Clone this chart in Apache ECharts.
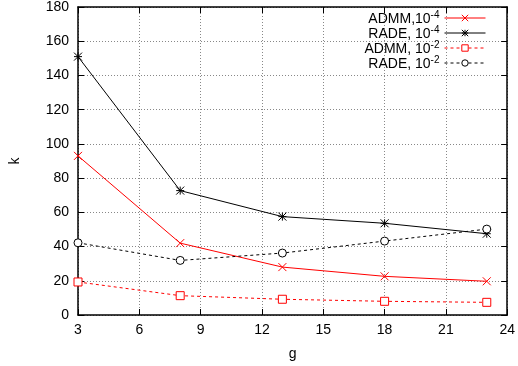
<!DOCTYPE html>
<html>
<head>
<meta charset="utf-8">
<script src="https://cdn.jsdelivr.net/npm/echarts@6/dist/echarts.min.js"></script>
<style>
html, body { margin: 0; padding: 0; background: #fff; }
#chart { width: 518px; height: 366px; }
</style>
</head>
<body>
<div id="chart"></div>
<script>
// Iteration counts k versus group size g for two solvers at two tolerances
const gValues = [3, 8, 13, 18, 23];
const admmTight = [93, 42, 28, 22.6, 19.7];
const radeTight = [151, 72.7, 57.5, 53.6, 47.5];
const admmLoose = [19.3, 11.3, 9.2, 8, 7.4];
const radeLoose = [42.2, 31.9, 36.2, 43.2, 50.2];

const seriesNames = ['ADMM,10^-4', 'RADE, 10^-4', 'ADMM, 10^-2', 'RADE, 10^-2'];
const legendLabels = {
  'ADMM,10^-4': '{b|ADMM,10}{sup|-4}',
  'RADE, 10^-4': '{b|RADE, 10}{sup|-4}',
  'ADMM, 10^-2': '{b|ADMM, 10}{sup|-2}',
  'RADE, 10^-2': '{b|RADE, 10}{sup|-2}'
};

const FONT = 'Liberation Sans, Arial, sans-serif';
const crossPath = 'path://M0,0L10,10M10,0L0,10';
const starPath = 'path://M0,0L10,10M10,0L0,10M5,0L5,10M0,5L10,5';

function pairs(ys) { return gValues.map((g, i) => [g, ys[i]]); }

const gridLine = { show: true, lineStyle: { color: '#888', type: [1, 2], width: 1 } };
const frameLine = { show: true, onZero: false, lineStyle: { color: '#000', width: 1.5 } };
const tickIn = { show: true, inside: true, length: 6, lineStyle: { color: '#000', width: 1 } };

const chart = echarts.init(document.getElementById('chart'), null, { renderer: 'canvas' });
chart.setOption({
  animation: false,
  backgroundColor: '#fff',
  grid: { left: 75, right: 10, top: 6, bottom: 51 },
  legend: {
    orient: 'vertical',
    right: 27,
    top: 5,
    align: 'right',
    itemWidth: 41,
    itemHeight: 8,
    itemGap: -1,
    data: seriesNames,
    formatter: name => legendLabels[name],
    lineStyle: { width: 1 },
    itemStyle: { borderWidth: 1 },
    textStyle: {
      fontFamily: FONT,
      color: '#000',
      rich: {
        b: { fontFamily: FONT, fontSize: 14, color: '#000', verticalAlign: 'bottom', lineHeight: 15 },
        sup: { fontFamily: FONT, fontSize: 10, color: '#000', verticalAlign: 'bottom', padding: [0, 0, 6, 0] }
      }
    }
  },
  xAxis: [
    {
      type: 'value', min: 3, max: 24, interval: 3,
      name: 'g', nameLocation: 'middle', nameGap: 32,
      nameTextStyle: { fontFamily: FONT, fontSize: 14, color: '#000' },
      axisLine: frameLine, axisTick: tickIn, splitLine: gridLine,
      axisLabel: { fontFamily: FONT, fontSize: 14, color: '#000', margin: 8 }
    },
    {
      type: 'value', position: 'top', min: 3, max: 24, interval: 3,
      axisLine: frameLine, axisTick: tickIn, splitLine: { show: false },
      axisLabel: { show: false }
    }
  ],
  yAxis: [
    {
      type: 'value', min: 0, max: 180, interval: 20,
      name: 'k', nameLocation: 'middle', nameGap: 56,
      nameTextStyle: { fontFamily: FONT, fontSize: 14, color: '#000' },
      axisLine: frameLine, axisTick: tickIn, splitLine: gridLine,
      axisLabel: { fontFamily: FONT, fontSize: 14, color: '#000', margin: 9 }
    },
    {
      type: 'value', position: 'right', min: 0, max: 180, interval: 20,
      axisLine: frameLine, axisTick: tickIn, splitLine: { show: false },
      axisLabel: { show: false }
    }
  ],
  series: [
    {
      name: seriesNames[0], type: 'line', data: pairs(admmTight),
      symbol: crossPath, symbolSize: 8,
      lineStyle: { color: '#ff0000', width: 1 },
      itemStyle: { color: 'rgba(0,0,0,0)', borderColor: '#ff0000', borderWidth: 1 }
    },
    {
      name: seriesNames[1], type: 'line', data: pairs(radeTight),
      symbol: starPath, symbolSize: 8,
      lineStyle: { color: '#000', width: 1 },
      itemStyle: { color: 'rgba(0,0,0,0)', borderColor: '#000', borderWidth: 1 }
    },
    {
      name: seriesNames[2], type: 'line', data: pairs(admmLoose),
      symbol: 'rect', symbolSize: 8,
      lineStyle: { color: '#ff0000', width: 1, type: [3, 3] },
      itemStyle: { color: '#fff', borderColor: '#ff0000', borderWidth: 1 }
    },
    {
      name: seriesNames[3], type: 'line', data: pairs(radeLoose),
      symbol: 'circle', symbolSize: 8,
      lineStyle: { color: '#000', width: 1, type: [3, 3] },
      itemStyle: { color: '#fff', borderColor: '#000', borderWidth: 1 }
    }
  ]
});
</script>
</body>
</html>
